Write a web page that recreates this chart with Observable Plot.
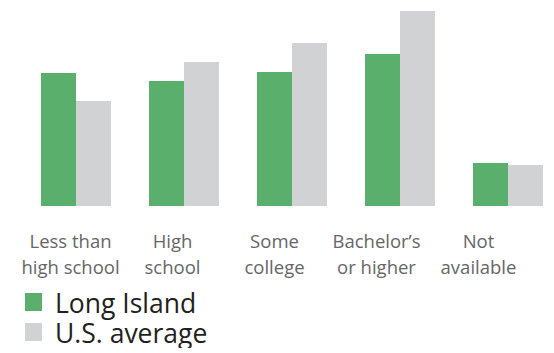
<!DOCTYPE html>
<html><head><meta charset="utf-8">
<script src="https://cdn.jsdelivr.net/npm/d3@7"></script>
<script src="https://cdn.jsdelivr.net/npm/@observablehq/plot@0.6"></script>
<style>
body{margin:0;background:#fff;font-family:"Open Sans",Lato,sans-serif;}
#chart svg{display:block;font-family:"Open Sans",sans-serif;}
.legend{margin-left:25px;margin-top:6px;}
.legend .row{display:flex;align-items:center;height:30px;line-height:30px;font-size:26.5px;color:#231f20;}
.legend .sw{width:17px;height:18px;margin-right:13px;margin-top:-3px;}
</style></head>
<body><div id="chart"></div>
<script>
const categories = ["Less than\nhigh school","High\nschool","Some\ncollege","Bachelor’s\nor higher","Not\navailable"];
const series = ["Long Island","U.S. average"];
const longIsland = [133,125,134,152,43];
const usAverage = [105,144,163,195,41];
const colors = ["#5aaf6c","#d1d2d4"];

const data = [];
categories.forEach((c,i)=>{
  data.push({cat:c, series:series[0], value:longIsland[i]});
  data.push({cat:c, series:series[1], value:usAverage[i]});
});

const bars = Plot.plot({
  width:554, height:206, marginTop:0, marginBottom:0, marginLeft:40, marginRight:10,
  fx:{domain:categories, paddingInner:0.355, paddingOuter:0, axis:null},
  x:{domain:series, padding:0, axis:null},
  y:{domain:[0,206], axis:null},
  color:{domain:series, range:colors},
  marks:[
    Plot.barY(data,{fx:"cat", x:"series", y:"value", fill:"series"})
  ]
});

const labels = Plot.plot({
  width:554, height:76, marginTop:0, marginBottom:0, marginLeft:69, marginRight:74.5,
  x:{type:"point", domain:categories, padding:0, axis:null},
  marks:[
    Plot.text(categories,{x:d=>d, frameAnchor:"top", lineAnchor:"top", dy:23, fontSize:18.5, lineHeight:1.41, fill:"#666"})
  ]
});

const chart = document.getElementById("chart");
chart.appendChild(bars);
chart.appendChild(labels);
const leg = document.createElement("div");
leg.className = "legend";
series.forEach((s,i)=>{
  const r = document.createElement("div"); r.className="row";
  const sw = document.createElement("div"); sw.className="sw"; sw.style.background=colors[i];
  const t = document.createElement("span"); t.textContent=s;
  r.appendChild(sw); r.appendChild(t); leg.appendChild(r);
});
chart.appendChild(leg);
</script></body></html>
